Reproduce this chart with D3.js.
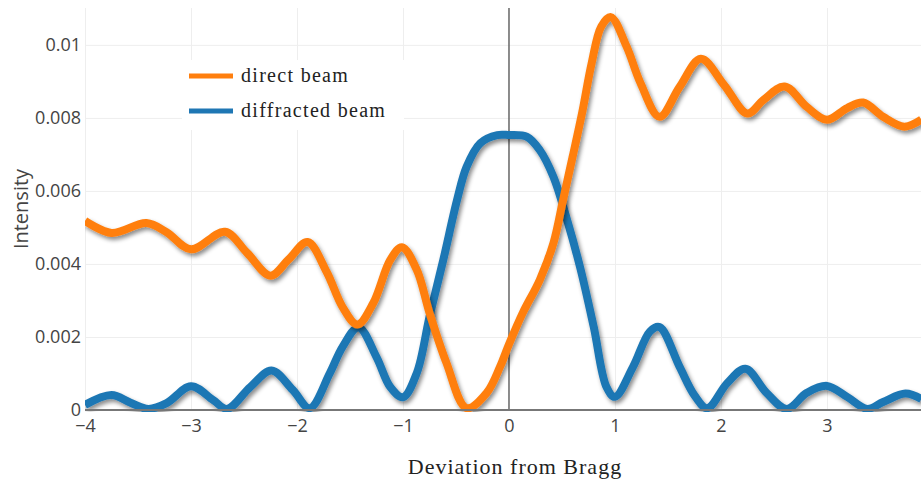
<!DOCTYPE html>
<html>
<head>
<meta charset="utf-8">
<script src="https://cdn.jsdelivr.net/npm/d3@7"></script>
<style>
  body { margin: 0; background: #fff; }
  text { fill: #444; }
</style>
</head>
<body>
<svg id="chart"></svg>
<script>
// values

const directX = [-4.0, -3.75, -3.42, -3.23, -3.0, -2.68, -2.47, -2.25, -2.08, -1.9, -1.72, -1.57, -1.43, -1.28,
  -1.12, -1.01, -0.87, -0.75, -0.59, -0.4, -0.21, -0.085, 0, 0.13, 0.29, 0.42, 0.51, 0.6, 0.69, 0.78, 0.87,
  0.96, 1.11, 1.24, 1.42, 1.61, 1.81, 2.03, 2.25, 2.4, 2.6, 2.81, 3.0, 3.19, 3.34, 3.53, 3.73, 3.89];
const directY = [0.00518, 0.00485, 0.00512, 0.00487, 0.0044, 0.00488, 0.0043, 0.00368, 0.00412, 0.0046, 0.00378,
  0.00282, 0.00234, 0.00293, 0.00411, 0.00446, 0.00384, 0.00266, 0.00129, 0.00005, 0.00047, 0.00118, 0.0018,
  0.00266, 0.00356, 0.00458, 0.00575, 0.00693, 0.00814, 0.0095, 0.0105, 0.01076, 0.00995, 0.00896, 0.00803,
  0.00885, 0.00962, 0.0089, 0.00812, 0.00849, 0.00886, 0.0083, 0.00795, 0.00827, 0.00842, 0.00803,
  0.00776, 0.00795];

const diffractedX = [-4.0, -3.75, -3.57, -3.4, -3.23, -3.0, -2.79, -2.66, -2.44, -2.24, -2.04, -1.88, -1.69,
  -1.57, -1.42, -1.25, -1.12, -1.0, -0.87, -0.75, -0.62, -0.49, -0.4, -0.27, -0.11, 0, 0.17, 0.29, 0.42, 0.54,
  0.67, 0.8, 0.92, 1.0, 1.17, 1.33, 1.42, 1.61, 1.75, 1.87, 2.06, 2.23, 2.43, 2.62, 2.81, 3.0, 3.19, 3.38,
  3.53, 3.74, 3.89];
const diffractedY = [0.00014, 0.00041, 0.0002, 0.00003, 0.00019, 0.00065, 0.00027, 0.00003, 0.00063, 0.00108,
  0.00055, 0.00005, 0.00101, 0.00173, 0.00226, 0.00145, 0.00063, 0.00035, 0.00101, 0.00255, 0.00411, 0.00575,
  0.00666, 0.00731, 0.00753, 0.00753, 0.00748, 0.00712, 0.00638, 0.00529, 0.00392, 0.00227, 0.00063, 0.00036,
  0.00118, 0.00215, 0.00227, 0.00118, 0.0004, 0.00005, 0.00074, 0.00113, 0.00047, 0.00003, 0.00047, 0.00066,
  0.00036, 0.00003, 0.00022, 0.00045, 0.0003];

const xTicks = [-4, -3, -2, -1, 0, 1, 2, 3];
const yTicks = [0, 0.002, 0.004, 0.006, 0.008, 0.01];

const series = [
  { name: 'diffracted beam', color: '#1f77b4', xs: diffractedX, ys: diffractedY },
  { name: 'direct beam', color: '#ff7f0e', xs: directX, ys: directY }
];

const width = 921;
const height = 481;
const margin = { left: 85, right: 0, top: 8, bottom: 71 };

const svg = d3.select('#chart')
  .attr('width', width)
  .attr('height', height)
  .style('font-family', '"Open Sans", sans-serif');

const x = d3.scaleLinear()
  .domain([-4, 3.887])
  .range([margin.left, width - margin.right]);

const y = d3.scaleLinear()
  .domain([0, 0.01101])
  .range([height - margin.bottom, margin.top]);

const defs = svg.append('defs');
defs.append('filter')
  .attr('id', 'shadow')
  .attr('x', '-10%').attr('y', '-10%')
  .attr('width', '120%').attr('height', '120%')
  .append('feDropShadow')
    .attr('dx', 2).attr('dy', 3)
    .attr('stdDeviation', 2.2)
    .attr('flood-color', '#000')
    .attr('flood-opacity', 0.45);

defs.append('clipPath').attr('id', 'plot')
  .append('rect')
    .attr('x', margin.left).attr('y', 0)
    .attr('width', width - margin.left).attr('height', height - margin.bottom + 2);

// grid
svg.append('g')
  .attr('transform', 'translate(0,' + (height - margin.bottom) + ')')
  .call(d3.axisBottom(x).tickValues(xTicks.filter(d => d !== 0)).tickSize(-(height - margin.top - margin.bottom)).tickFormat(''))
  .call(g => g.select('.domain').remove())
  .call(g => g.selectAll('line').attr('stroke', '#eee'));

svg.append('g')
  .attr('transform', 'translate(' + margin.left + ',0)')
  .call(d3.axisLeft(y).tickValues(yTicks.slice(1)).tickSize(-(width - margin.left - margin.right)).tickFormat(''))
  .call(g => g.select('.domain').remove())
  .call(g => g.selectAll('line').attr('stroke', '#eee'));

// zero line at x = 0
svg.append('line')
  .attr('x1', x(0)).attr('x2', x(0))
  .attr('y1', margin.top).attr('y2', y(0))
  .attr('stroke', '#666').attr('stroke-width', 1.5);

// tick labels
svg.append('g')
  .attr('transform', 'translate(0,' + (height - margin.bottom) + ')')
  .call(d3.axisBottom(x).tickValues(xTicks).tickSize(0).tickPadding(9).tickFormat(d => d < 0 ? '\u2212' + Math.abs(d) : d))
  .call(g => g.select('.domain').remove())
  .call(g => g.selectAll('text').attr('font-size', 18).attr('fill', '#444').attr('font-family', '"Open Sans", sans-serif'));

svg.append('g')
  .attr('transform', 'translate(' + margin.left + ',0)')
  .call(d3.axisLeft(y).tickValues(yTicks).tickSize(0).tickPadding(4).tickFormat(d => d === 0 ? '0' : String(+d.toFixed(3))))
  .call(g => g.select('.domain').remove())
  .call(g => g.selectAll('text').attr('font-size', 18).attr('fill', '#444').attr('font-family', '"Open Sans", sans-serif'));

// lines
const line = d3.line()
  .x(d => x(d[0]))
  .y(d => y(d[1]))
  .curve(d3.curveCatmullRom.alpha(0.5));

const plot = svg.append('g').attr('clip-path', 'url(#plot)');

plot.selectAll('.trace')
  .data(series)
  .enter().append('path')
    .attr('class', 'trace')
    .attr('fill', 'none')
    .attr('stroke', d => d.color)
    .attr('stroke-width', 8)
    .attr('stroke-linejoin', 'round')
    .attr('filter', 'url(#shadow)')
    .attr('d', d => line(d.xs.map((v, i) => [v, d.ys[i]])));

svg.append('line')
  .attr('x1', margin.left).attr('x2', width)
  .attr('y1', y(0)).attr('y2', y(0))
  .attr('stroke', '#777').attr('stroke-width', 2);

// axis titles
svg.append('text')
  .attr('transform', 'translate(28,' + ((margin.top + height - margin.bottom) / 2) + ') rotate(-90)')
  .attr('text-anchor', 'middle')
  .attr('font-size', 20)
  .text('Intensity');

svg.append('text')
  .attr('x', 515)
  .attr('y', 474)
  .attr('text-anchor', 'middle')
  .attr('font-family', '"Liberation Serif", serif')
  .attr('font-size', 22)
  .attr('letter-spacing', 1)
  .style('fill', '#222')
  .text('Deviation from Bragg');

// legend
const legend = svg.append('g').attr('transform', 'translate(182,60)');
legend.append('rect')
  .attr('width', 222).attr('height', 70)
  .attr('fill', '#fff');

const items = legend.selectAll('.item')
  .data(series.slice().reverse())
  .enter().append('g')
    .attr('class', 'item')
    .attr('transform', (d, i) => 'translate(0,' + (16 + i * 35) + ')');

items.append('line')
  .attr('x1', 7).attr('x2', 51)
  .attr('stroke', d => d.color)
  .attr('stroke-width', 5);

items.append('text')
  .attr('x', 59)
  .attr('dy', '0.32em')
  .attr('font-family', '"Liberation Serif", serif')
  .attr('font-size', 20)
  .attr('letter-spacing', 1.3)
  .style('fill', '#222')
  .text(d => d.name);
</script>
</body>
</html>
